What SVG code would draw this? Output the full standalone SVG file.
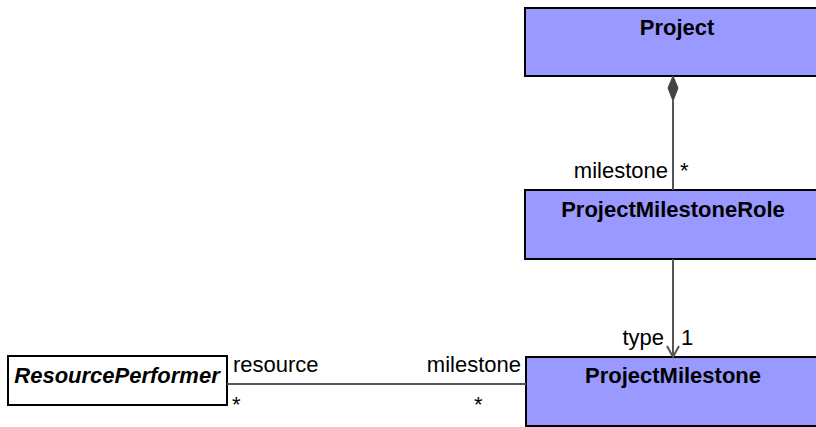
<svg xmlns="http://www.w3.org/2000/svg" width="816" height="427" viewBox="0 0 816 427">
<style>
.cls{fill:#9999ff;stroke:#000;stroke-width:2}
.abs{fill:#fff;stroke:#000;stroke-width:2}
.name{font-family:"Liberation Sans",Arial,sans-serif;font-size:22px;font-weight:bold;fill:#000;text-anchor:middle}
.lbl{font-family:"Liberation Sans",Arial,sans-serif;font-size:22px;fill:#000}
.edge{stroke:#555;stroke-width:2;fill:none}
</style>
<rect width="816" height="427" fill="#fff"/>
<g id="Project">
<rect class="cls" x="525" y="8" width="296" height="68"/>
<text class="name" x="677" y="35">Project</text>
</g>
<g id="ProjectMilestoneRole">
<rect class="cls" x="525" y="190" width="296" height="69"/>
<text class="name" x="673" y="217">ProjectMilestoneRole</text>
</g>
<g id="ProjectMilestone">
<rect class="cls" x="526" y="357" width="296" height="69"/>
<text class="name" x="673" y="383">ProjectMilestone</text>
</g>
<g id="ResourcePerformer">
<rect class="abs" x="8" y="356" width="219" height="49"/>
<text class="name" x="117" y="383" font-style="italic">ResourcePerformer</text>
</g>
<g id="connectors">
<line class="edge" x1="673" y1="101" x2="673" y2="190"/>
<polygon points="673,76 678,88 673,101 668,88" fill="#444" stroke="#444" stroke-width="1"/>
<text class="lbl" x="668" y="178" text-anchor="end">milestone</text>
<text class="lbl" x="680" y="178">*</text>
<line class="edge" x1="673" y1="259" x2="673" y2="356"/>
<polyline class="edge" points="667,346 673,357 679,346"/>
<text class="lbl" x="664" y="345" text-anchor="end">type</text>
<text class="lbl" x="681" y="345">1</text>
<line class="edge" x1="227" y1="384" x2="526" y2="384"/>
<text class="lbl" x="233" y="372">resource</text>
<text class="lbl" x="232" y="412">*</text>
<text class="lbl" x="521" y="372" text-anchor="end">milestone</text>
<text class="lbl" x="474" y="412">*</text>
</g>
</svg>
